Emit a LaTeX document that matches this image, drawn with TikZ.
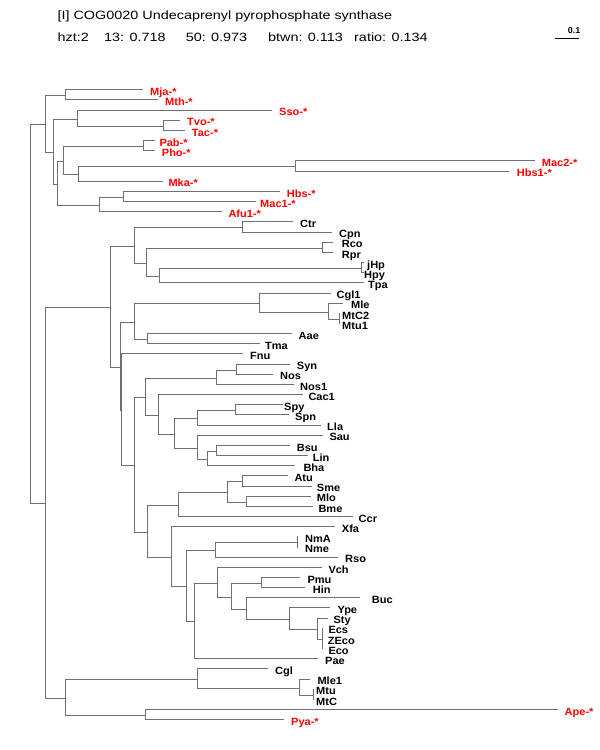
\documentclass[tikz,border=0pt]{standalone}
\usepackage{fontspec}
\setmainfont{Liberation Sans}
\newfontfamily\leaffont[FakeStretch=1.05]{Liberation Sans}
\newfontfamily\headfont[FakeStretch=1.2]{Liberation Sans}
\usepackage{tikz}
\usetikzlibrary{calc}
\definecolor{branchgray}{gray}{0.44}
\definecolor{archred}{RGB}{255,0,0}

\begin{document}
\begin{tikzpicture}[
    x=1pt, y=-1pt,
    branch/.style={draw=branchgray, line width=1.2pt},
    leaf/.style={font=\leaffont\bfseries\fontsize{10.5}{12}\selectfont, inner sep=0pt, anchor=base west},
    head/.style={font=\headfont\fontsize{12}{14}\selectfont, inner sep=0pt, anchor=base west},
    barlabel/.style={font=\leaffont\bfseries\fontsize{8.5}{10}\selectfont, inner sep=0pt, anchor=base east}
]
\useasboundingbox (0,0) rectangle (600,750);

% header
\node[head] (title) at (57.4,19) {[I] COG0020 Undecaprenyl pyrophosphate synthase};
\node[head] (hzt) at (57.4,41) {hzt:2};
\node[head] (s13) at (104,41) {13: 0.718};
\node[head] (s50) at (185.6,41) {50: 0.973};
\node[head] (btwn) at (268,41) {btwn: 0.113};
\node[head] (ratio) at (354,41) {ratio: 0.134};

% scale bar
\coordinate (barl) at (555,38.5);
\coordinate (barr) at (579,38.5);
\draw[line width=1pt] (barl) -- (barr);
\node[barlabel] (barlbl) at (580.5,33.7) {0.1};

% leaves: name/row/line end/label x/label/colour
\foreach \nm/\i/\xe/\xt/\txt/\c in {
    mja/0/143/150/Mja-*/archred, mth/1/158/165/Mth-*/archred,
    sso/2/271.7/279/Sso-*/archred, tvo/3/180/187/Tvo-*/archred,
    tac/4/185/191.7/Tac-*/archred, pab/5/155/159.3/Pab-*/archred,
    pho/6/155/161.7/Pho-*/archred, macB/7/535/541.7/Mac2-*/archred,
    hbsA/8/509.3/516.7/Hbs1-*/archred, mka/9/162.7/168.3/Mka-*/archred,
    hbs/10/280/286.7/Hbs-*/archred, macA/11/256/260/Mac1-*/archred,
    afuA/12/221.7/228.3/Afu1-*/archred,
    ctr/13/293.3/300/Ctr/black, cpn/14/331.7/339/Cpn/black,
    rco/15/333.3/341.7/Rco/black, rpr/16/333.3/341.7/Rpr/black,
    jhp/17/364/367/jHp/black, hpy/18/364/364/Hpy/black,
    tpa/19/364/368/Tpa/black, cglA/20/331/336.5/Cgl1/black,
    mle/21/343/351/Mle/black, mtcB/22/338.5/342/MtC2/black,
    mtuA/23/338.5/342/Mtu1/black, aae/24/292/298.5/Aae/black,
    tma/25/260/265/Tma/black, fnu/26/243.3/250/Fnu/black,
    syn/27/290/296.7/Syn/black, nos/28/273.3/280/Nos/black,
    nosA/29/294/300/Nos1/black, cacA/30/302.7/308.3/Cac1/black,
    spy/31/282.7/284/Spy/black, spn/32/289.3/295/Spn/black,
    lla/33/321/327/Lla/black, sau/34/323/329.3/Sau/black,
    bsu/35/290/296.7/Bsu/black, lin/36/308/312.7/Lin/black,
    bha/37/295/303.3/Bha/black, atu/38/288.3/294.3/Atu/black,
    sme/39/311.7/316.7/Sme/black, mlo/40/311/316.7/Mlo/black,
    bme/41/313/318.3/Bme/black, ccr/42/353/358.5/Ccr/black,
    xfa/43/335/341.7/Xfa/black, nma/44/296.7/305/NmA/black,
    nme/45/296.7/305/Nme/black, rso/46/338.3/345/Rso/black,
    vch/47/321.7/328.3/Vch/black, pmu/48/300/307.3/Pmu/black,
    hin/49/305/312.7/Hin/black, buc/50/360/371.7/Buc/black,
    ype/51/330/337.3/Ype/black, sty/52/328.3/333.3/Sty/black,
    ecs/53/321.7/328.3/Ecs/black, zeco/54/321.7/327.7/ZEco/black,
    eco/55/321.7/328.3/Eco/black, pae/56/317.7/325/Pae/black,
    cgl/57/268.3/275/Cgl/black, mleA/58/310/317.3/Mle1/black,
    mtu/59/313.3/316/Mtu/black, mtc/60/313.3/316/MtC/black,
    ape/61/558/564.5/Ape-*/archred, pya/62/284/291/Pya-*/archred}
{
    \coordinate (\nm) at (\xe,{round(89.3+10.16*\i)+0.5});
    \node[leaf, text=\c] (l\nm) at (\xt,{95.5+10.16*\i}) {\txt};
}

% clades, from the tips down: name/x/first child/last child
\foreach \nm/\nx/\a/\b in {
    nMjaMth/65/mja/mth, nTT/163.3/tvo/tac, nSsoT/76.7/sso/nTT,
    nPabPho/143.3/pab/pho, nMacHbs/295/macB/hbsA, nE/77.7/nMacHbs/mka,
    nD/62.7/nPabPho/nE, nHbsMac/123.3/hbs/macA, nF/99.3/nHbsMac/afuA,
    nC/56.7/nD/nF, nB/52.7/nSsoT/nC, nA/45/nMjaMth/nB,
    nCtrCpn/241.7/ctr/cpn, nRcoRpr/321.7/rco/rpr, nHp/361/jhp/hpy,
    nS/159.3/nHp/tpa, nR/146/nRcoRpr/nS, nQ/134/nCtrCpn/nR,
    nMM/338.5/mtcB/mtuA, nT/328/mle/nMM, nCg/259.3/cglA/nT,
    nAT/146.7/aae/tma, nI/134/nCg/nAT,
    nSynNos/236/syn/nos, nSNN/216/nSynNos/nosA,
    nSpySpn/235/spy/spn, nX/196.7/nSpySpn/lla,
    nBsuLin/216/bsu/lin, nZ/206.7/nBsuLin/bha, nY/196.7/sau/nZ,
    nW/174/nX/nY, nV/158.3/cacA/nW, nL/145/nSNN/nV,
    nAtuSme/241.7/atu/sme, nMloBme/246/mlo/bme,
    nAB/226.7/nAtuSme/nMloBme, nN/177.7/nAB/ccr,
    nNm/296.7/nma/nme, nAD/215/nNm/rso,
    nPmuHin/261/pmu/hin, nEco/321.7/ecs/eco, nAJ/317.3/sty/nEco,
    nAI/289.3/ype/nAJ, nAH/246/buc/nAI, nAG/230.7/nPmuHin/nAH,
    nAF/216.7/vch/nAG, nAE/194.3/nAF/pae, nAC/186/nAD/nAE,
    nAA/171/xfa/nAC, nU/146.7/nN/nAA, nM/134/nL/nU,
    nJB/121/fnu/nM, nJ/120/nI/nJB, nK/110/nQ/nJ,
    nMtuMtC/313.3/mtu/mtc, nAK/298.5/mleA/nMtuMtC,
    nCglM/196.7/cgl/nAK, nApePya/145.4/ape/pya, nG/65/nCglM/nApePya,
    nP/45/nK/nG, root/30/nA/nP}
{
    % snap each fork to the pixel grid
    \path let \p1 = ($(\a)!.5!(\b)$) in
        coordinate (\nm) at ({round(\nx)+0.5},{-(round(-\y1)+0.5)});
    \draw[branch] (\a) -| (\nm) |- (\b);
}
\draw[branch] (nEco) |- (zeco);

\end{tikzpicture}
\end{document}
